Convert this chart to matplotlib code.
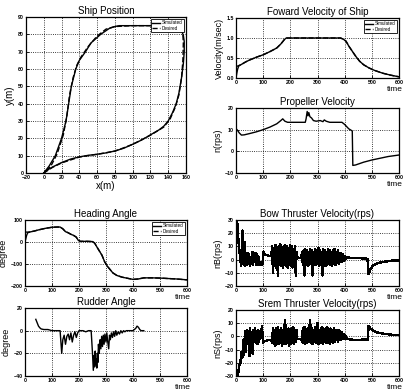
import numpy as np
import matplotlib
matplotlib.use('Agg')
import matplotlib.pyplot as plt

plt.rcParams['font.family'] = ['Liberation Sans', 'DejaVu Sans']

# ---- ship position (x, y in m) ----
ship_x_sim = [0, 5, 10, 20, 30, 40, 50, 60, 70, 80, 90, 100, 110, 120, 130, 135, 140, 145, 149, 152,
              155, 157, 158, 158, 157, 155, 150, 140, 120, 100, 85, 80, 74, 64, 53, 47, 40, 36, 31, 28,
              25, 20, 13, 6, 0]
ship_y_sim = [0, 2, 3.5, 6, 8, 9.3, 10.2, 10.8, 11.6, 12.7, 14.3, 16.6, 19, 22, 25, 27, 30, 35, 40, 46,
              55, 63, 70, 76, 79.5, 82, 84, 84.8, 85, 85, 85, 84.5, 83.5, 80, 75, 70, 65, 60, 50, 40,
              30, 20, 10, 4, 0]
ship_x_des = [0, 10, 20, 40, 60, 80, 100, 120, 135, 142, 148, 152, 155, 156.5, 157, 156, 150, 140, 120, 100,
              80, 70, 60, 50, 42, 37, 33, 29, 26, 22, 15, 8, 0]
ship_y_des = [0, 3.3, 5.8, 9.2, 10.8, 12.6, 16.5, 21.8, 26.5, 31, 38, 45, 55, 65, 75, 84, 85, 85, 85, 85,
              84.5, 83, 79, 73, 67, 62, 55, 45, 33, 22, 11, 4, 0]

# ---- forward velocity ----
vel_t = [0, 3, 6, 10, 20, 35, 50, 75, 100, 125, 150, 165, 178, 185, 250, 300, 385, 395, 405, 415,
         425, 440, 455, 470, 490, 510, 540, 570, 600]
vel_sim = [0, 0.12, 0.22, 0.3, 0.34, 0.4, 0.45, 0.52, 0.58, 0.66, 0.75, 0.85, 0.96, 1.0, 1.0, 1.0, 1.0, 0.97, 0.92, 0.8,
           0.7, 0.55, 0.42, 0.33, 0.25, 0.19, 0.12, 0.07, 0.03]
vel_des = [0.28, 0.29, 0.3, 0.31, 0.34, 0.4, 0.45, 0.52, 0.58, 0.66, 0.75, 0.85, 0.96, 1.0, 1.0, 1.0, 1.0, 0.97, 0.92, 0.8,
           0.7, 0.55, 0.42, 0.33, 0.25, 0.19, 0.12, 0.07, 0.03]

# ---- propeller velocity ----
prop_t = [0, 5, 12, 20, 30, 50, 75, 100, 125, 150, 165, 172, 180, 190, 255, 258, 262, 265, 268, 272,
          278, 285, 295, 310, 320, 325, 332, 345, 390, 400, 415, 428, 430, 440, 470, 500, 530, 560, 600]
prop_n = [10.5, 9.8, 8.5, 7.5, 7.6, 8.2, 9, 10, 11.2, 12.7, 14.2, 15, 13.9, 13.4, 13.4, 15, 18.4, 16.4, 17.9, 16,
          15.4, 14.2, 13.9, 14.2, 13.7, 14.5, 13.9, 13.4, 13.4, 12.4, 10.4, 9.4, -6.5, -6.3, -5, -4, -3.2, -2.4, -1.7]

# ---- heading angle ----
head_t = [0, 3, 6, 10, 20, 35, 50, 75, 100, 120, 130, 140, 150, 160, 170, 180, 190, 197, 205, 230,
          250, 258, 265, 275, 285, 295, 305, 315, 325, 340, 360, 380, 400, 420, 440, 470, 500, 530, 560, 600]
head_sim = [0, 15, 30, 42, 46, 50, 55, 62, 67, 68, 68, 60, 47, 42, 35, 30, 22, 8, 3, 3,
            2, -5, -20, -40, -60, -90, -110, -125, -140, -152, -160, -165, -170, -168, -163, -163, -164, -166, -168, -172]
head_des = [45, 45, 45, 45, 46, 50, 55, 62, 67, 68, 68, 60, 47, 42, 35, 30, 22, 8, 3, 3,
            2, -5, -20, -40, -60, -90, -110, -125, -140, -152, -160, -165, -170, -168, -163, -163, -164, -166, -168, -172]

# ---- rudder angle ----
rud_t = [40, 45, 50, 55, 60, 70, 85, 100, 130, 133,
         136, 140, 145, 150, 155, 160, 165, 170, 175, 180,
         185, 190, 195, 200, 205, 215, 225, 235, 240, 245,
         250, 253, 256, 258, 260, 262, 264, 266, 268, 270,
         272, 275, 278, 281, 284, 287, 290, 293, 296, 300,
         303, 306, 310, 313, 316, 320, 324, 328, 332, 336,
         340, 345, 350, 355, 360, 365, 370, 375, 380, 390,
         400, 410, 415, 420, 425, 430, 440]
rud_deg = [10, 7, 4, 2.5, 1.5, 1, 1, 0, 0, -10,
           -20, -8, -4, -12, -5, -3, -8, -2, -10, -4,
           -1, -6, -2, 0, 0, 0, -1, 0, 0, 0,
           -20, -35, -22, -32, -18, -30, -25, -33, -20, -28,
           -12, -20, -8, -16, -5, -14, -4, -12, -3, -10,
           -2, -9, -16, -4, -8, -2, -6, -1, -5, 0,
           -4, -1, -3, 0, -2, 0, -1, 0, 0, 0,
           0, 2, 4, 3, 1, 0, 0]

# ---- bow thruster (rps) ----
bow_head_t = [2, 5, 9, 14, 19, 22, 24, 26, 28, 30, 32, 34]
bow_head = [30, 27, 14, 4, -5, 3, 22, -3, 7, -4, 13, -5]
bow_burst1 = [3, -4, 5, -3, 4, -5, 2, -3, 6, -4, 3, -2, 5, -4, 4, -3, 2, -4]
bow_mid1_t = [90, 94, 98, 100, 106, 118, 130]
bow_mid1 = [-2, -4, -3, 6, 4, 3, 2.5]
bow_burst2 = [10, -10, 9, -5, 11, -6, 8, -12, 10, -4, 12, -5, 9, -6, 10, -4, 11, -5, 10, -6,
              9, -4, 11, -5, 10, -6, 8, -5, 10, -12, 6]
bow_mid2_t = [226, 234, 240]
bow_mid2 = [1.5, 1.3, 1.3]
bow_burst3 = [6, -4, 7, -12, 8, -3, 7, -5, 6, -4, 8, -3, 7, -12, 6, -4, 8, -4, 7, -3,
              9, -5, 7, -4, 6, -12, 8, -3, 7, -5, 6, -4, 8, -3, 7, -4, 6, -5, 7, -3,
              8, -4, 6, -2, 7, -3, 5, -2, 5, -2, 4, -1, 3, 0, 2, 1]
bow_tail_t = [412, 430, 460, 484, 488, 495, 505, 520, 545, 575, 600]
bow_tail = [1.5, 1.3, 1, 0.6, -11, -7, -4.5, -2.8, -1.6, -0.8, -0.5]

# ---- stern thruster (rps) ----
stern_head_t = [0, 4, 8, 12, 16, 20, 24, 27, 30, 33, 36, 38]
stern_head = [-30, -30, -28, -22, -20, -12, -16, -3, -14, 4, -12, 3]
stern_burst1 = [5, -6, 4, -15, 6, -5, 3, -13, 5, -4, 6, -5, 4, -6, 5, -4, 3]
stern_mid1_t = [91, 96, 99, 102, 115, 130]
stern_mid1 = [3, 7.5, -5, -4, -3, -2.5]
stern_burst2 = [-5, 6, -6, 5, -7, 6, -5, 7, -6, 5, -5, 6, -7, 5, -6, 7, 12, -6, 5, -5,
                6, -7, 5, -6, 6, -5, 7, -6, 5, -4, 5]
stern_mid2_t = [226, 234, 240]
stern_mid2 = [-2, -2, -2]
stern_burst3 = [-4, 6, -5, 7, -6, 5, -5, 6, -4, 7, 12, -5, 6, -6, 5, -4, 7, -5, 6, 10,
                -6, 5, -4, 6, -5, 7, -6, 5, -4, 6, -5, 7, -4, 5, -6, 6, -4, 5, -5, 6,
                -4, 5, -3, 4, -4, 5, -3, 4, -3, 3, -2, 2, -2, 1, -1, -1.5]
stern_tail_t = [412, 430, 460, 485, 488, 495, 505, 520, 545, 575, 600]
stern_tail = [-2, -2.5, -2.5, -2.3, 8, 6, 4.5, 3, 2, 1.2, 1]


def burst_times(start, vals, step=3):
    return list(start + step * np.arange(len(vals)))


def join(parts):
    t, v = [], []
    for tt, vv in parts:
        t += list(tt)
        v += list(vv)
    return t, v


bow_t, bow_v = join([(bow_head_t, bow_head), (burst_times(36, bow_burst1), bow_burst1),
                     (bow_mid1_t, bow_mid1), (burst_times(133, bow_burst2), bow_burst2),
                     (bow_mid2_t, bow_mid2), (burst_times(243, bow_burst3), bow_burst3),
                     (bow_tail_t, bow_tail)])
stern_t, stern_v = join([(stern_head_t, stern_head), (burst_times(40, stern_burst1), stern_burst1),
                         (stern_mid1_t, stern_mid1), (burst_times(133, stern_burst2), stern_burst2),
                         (stern_mid2_t, stern_mid2), (burst_times(243, stern_burst3), stern_burst3),
                         (stern_tail_t, stern_tail)])

W, H = 405, 390
fig = plt.figure(figsize=(W / 100, H / 100), dpi=100)


def make_ax(left, right, top, bottom):
    return fig.add_axes([left / W, 1 - bottom / H, (right - left) / W, (bottom - top) / H])


def style(ax, title, ylabel, xlim, ylim, xticks, yticks, time=True):
    ax.set_xlim(xlim)
    ax.set_ylim(ylim)
    ax.set_xticks(xticks)
    ax.set_yticks(yticks)
    ax.grid(True, linestyle=':', color='black', linewidth=0.6)
    ax.tick_params(direction='in', length=2, width=0.6, labelsize=3.8, pad=1.5)
    for lab in ax.get_xticklabels() + ax.get_yticklabels():
        lab.set_fontweight('bold')
    for s in ax.spines.values():
        s.set_linewidth(0.9)
    ax.set_title(title, fontsize=7, pad=2)
    ax.set_ylabel(ylabel, fontsize=6.5, labelpad=2)
    if time:
        ax.annotate('time', xy=(1, 0), xycoords='axes fraction', xytext=(3, -8),
                    textcoords='offset points', ha='right', va='center', fontsize=6)


def legend(ax):
    leg = ax.legend(['Simulated', 'Desired'], loc='upper right', fontsize=3.3, fancybox=False,
                    framealpha=1, edgecolor='black', handlelength=1.6, borderpad=0.3,
                    labelspacing=0.15, handletextpad=0.5, borderaxespad=0.4)
    leg.get_frame().set_linewidth(0.6)


lw = 1.0

# Ship position
ax1 = make_ax(26, 186, 17, 173)
ax1.plot(ship_x_sim, ship_y_sim, color='black', lw=lw)
ax1.plot(ship_x_des, ship_y_des, color='black', lw=lw, ls='--')
style(ax1, 'Ship Position', 'y(m)', (-20, 160), (0, 90), range(-20, 161, 20), range(0, 91, 10), time=False)
ax1.set_xlabel('x(m)', fontsize=7, labelpad=1)
ax1.set_ylabel('y(m)', fontsize=7, labelpad=2)
legend(ax1)

# Forward velocity
ax2 = make_ax(236, 399, 18, 78)
ax2.plot(vel_t, vel_sim, color='black', lw=lw)
ax2.plot(vel_t, vel_des, color='black', lw=lw, ls='--')
style(ax2, 'Foward Velocity of Ship', 'Velocity(m/sec)', (0, 600), (0, 1.5), range(0, 601, 100), [0, 0.5, 1, 1.5])
legend(ax2)

# Propeller velocity
ax3 = make_ax(236, 399, 108, 173)
ax3.plot(prop_t, prop_n, color='black', lw=lw)
style(ax3, 'Propeller Velocity', 'n(rps)', (0, 600), (-10, 20), range(0, 601, 100), [-10, 0, 10, 20])

# Heading angle
ax4 = make_ax(25, 187, 220, 286)
ax4.plot(head_t, head_sim, color='black', lw=lw)
ax4.plot(head_t, head_des, color='black', lw=lw, ls='--')
style(ax4, 'Heading Angle', 'degree', (0, 600), (-200, 100), range(0, 601, 100), [-200, -100, 0, 100])
legend(ax4)

# Rudder angle
ax5 = make_ax(25, 187, 308, 376)
ax5.plot(rud_t, rud_deg, color='black', lw=lw)
style(ax5, 'Rudder Angle', 'degree', (0, 600), (-40, 20), range(0, 601, 100), [-40, -20, 0, 20])

# Bow thruster
ax6 = make_ax(236, 399, 220, 286)
ax6.plot(bow_t, bow_v, color='black', lw=1.0, antialiased=False)
style(ax6, 'Bow Thruster Velocity(rps)', 'nB(rps)', (0, 600), (-20, 30), range(0, 601, 100), range(-20, 31, 10))

# Stern thruster
ax7 = make_ax(236, 399, 310, 376)
ax7.plot(stern_t, stern_v, color='black', lw=1.0, antialiased=False)
style(ax7, 'Srem Thruster Velocity(rps)', 'nS(rps)', (0, 600), (-30, 20), range(0, 601, 100), range(-30, 21, 10))

fig.savefig('out.png', dpi=100)
